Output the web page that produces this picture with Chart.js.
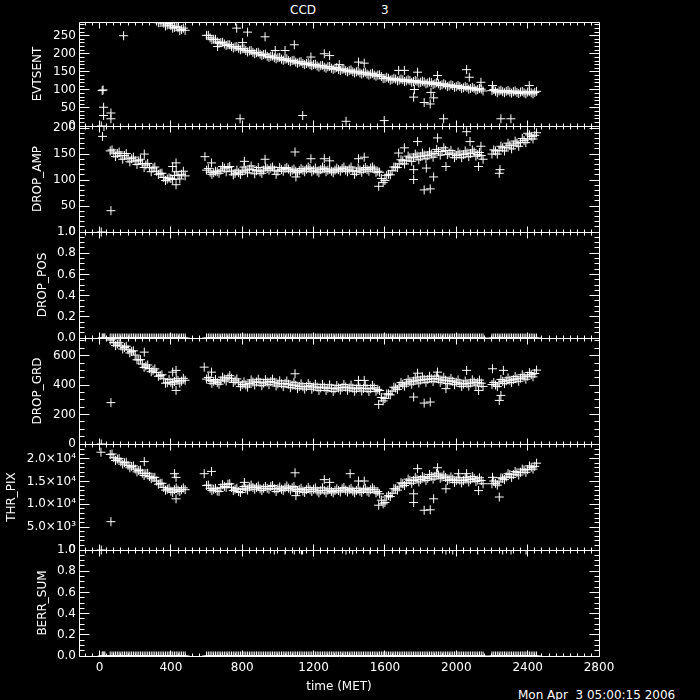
<!DOCTYPE html>
<html><head><meta charset="utf-8">
<script src="https://cdn.jsdelivr.net/npm/chart.js@4.4.0/dist/chart.umd.min.js"></script>
<style>
html,body{margin:0;padding:0;background:#000;}
#wrap{position:relative;width:700px;height:700px;background:#000;overflow:hidden;font-family:'DejaVu Sans';color:#fff;}
#wrap canvas{position:absolute;left:0;}
.txt{position:absolute;font-family:'DejaVu Sans';font-size:12px;line-height:12px;white-space:pre;color:#fff;}
</style></head><body>
<div id="wrap">
 <div class="txt" style="left:290px;top:4px">CCD</div>
 <div class="txt" style="left:381px;top:4px">3</div>
 <div class="txt" style="left:518px;top:689px">Mon Apr  3 05:00:15 2006</div>
</div>
<script>
// ---------------- data (time in MET seconds) ----------------
const time = [
 60,80,100,120,140,160,180,200,220,240,260,280,300,320,340,360,380,400,420,440,460,480,
 600,620,640,660,680,700,720,740,760,780,
 800,820,840,860,880,900,920,940,960,980,
 1000,1020,1040,1060,1080,1100,1120,1140,1160,1180,
 1200,1220,1240,1260,1280,1300,1320,1340,1360,1380,
 1400,1420,1440,1460,1480,1500,1520,1540,1560,1580,
 1600,1620,1640,1660,1680,1700,1720,1740,1760,1780,
 1800,1820,1840,1860,1880,1900,1920,1940,1960,1980,
 2000,2020,2040,2060,2080,2100,2120,2140,
 2200,2220,2240,2260,2280,2300,2320,2340,2360,2380,2400,2420,2440
];
const time2 = [
 70,90,110,130,150,170,190,210,230,250,270,290,310,330,350,370,390,410,430,450,470,
 610,630,650,670,690,710,730,750,770,790,
 810,830,850,870,890,910,930,950,970,990,
 1010,1030,1050,1070,1090,1110,1130,1150,1170,1190,
 1210,1230,1250,1270,1290,1310,1330,1350,1370,1390,
 1410,1430,1450,1470,1490,1510,1530,1550,1570,1590,
 1610,1630,1650,1670,1690,1710,1730,1750,1770,1790,
 1810,1830,1850,1870,1890,1910,1930,1950,1970,1990,
 2010,2030,2050,2070,2090,2110,2130,2150,
 2210,2230,2250,2270,2290,2310,2330,2350,2370,2390,2410,2430,2450
];
const evtsent = [
 395,389,381,376,367,361,352,346,336,331,319,313,301,295,287,285,280,278,273,272,267,265,
 251,244,240,233,231,227,225,220,219,215,
 214,209,208,204,203,199,198,193,193,189,
 189,185,185,181,181,177,177,173,173,170,
 170,166,167,163,164,160,160,157,157,153,
 153,150,150,147,147,144,144,141,141,137,
 132,132,129,130,127,128,125,126,123,124,
 121,122,119,120,117,117,114,114,111,112,
 109,109,106,107,104,104,101,102,
 98,96,97,95,96,94,95,93,94,92,94,92,93
];
const evtsent2 = [
 394,382,381,368,369,351,354,336,338,320,321,302,303,286,291,277,284,271,276,264,271,
 251,239,240,229,232,223,225,216,220,211,
 214,205,209,200,204,195,199,190,194,186,
 190,182,186,178,182,174,178,170,175,167,
 171,163,168,160,165,157,162,154,158,150,
 155,147,152,144,149,141,146,138,142,131,
 135,127,132,125,130,123,128,121,126,119,
 124,117,122,115,120,112,117,109,114,107,
 112,104,109,102,107,99,104,97,
 101,92,99,92,98,91,97,90,96,89,96,89,96
];
const dropAmp = [
 156,152,151,147,147,142,141,137,137,132,129,124,123,117,113,105,102,103,109,109,111,108,
 119,115,114,116,119,123,124,117,113,114,
 117,119,121,120,118,116,119,122,123,119,
 117,120,122,121,119,117,118,119,121,122,
 119,117,120,122,119,117,119,120,122,119,
 121,118,116,119,121,120,123,121,117,103,
 99,111,118,125,131,137,138,143,143,146,
 145,148,147,150,151,155,155,157,152,150,
 147,150,149,152,151,154,149,147,
 150,156,157,162,163,167,167,171,172,176,179,184,186
];
const dropAmp2 = [
 158,145,154,140,151,135,144,130,140,124,132,116,125,111,113,99,104,101,116,102,117,
 122,111,117,113,126,116,126,110,119,111,
 125,114,127,112,124,113,125,119,125,111,
 124,117,124,116,121,114,122,116,125,116,
 123,114,125,116,121,114,123,117,125,116,
 125,111,123,115,124,117,125,115,115,95,
 109,110,125,124,139,131,146,136,150,139,
 152,141,154,144,159,148,162,149,157,143,
 154,143,156,145,158,146,153,140,
 158,150,165,156,171,160,175,165,180,172,187,179,191
];
const dropPos = [
 0,0,0,0,0,0,0,0,0,0,0,0,0,0,0,0,0,0,0,0,0,0,
 0,0,0,0,0,0,0,0,0,0,
 0,0,0,0,0,0,0,0,0,0,
 0,0,0,0,0,0,0,0,0,0,
 0,0,0,0,0,0,0,0,0,0,
 0,0,0,0,0,0,0,0,0,0,
 0,0,0,0,0,0,0,0,0,0,
 0,0,0,0,0,0,0,0,0,0,
 0,0,0,0,0,0,0,0,
 0,0,0,0,0,0,0,0,0,0,0,0,0
];
const dropPos2 = [
 0,0,0,0,0,0,0,0,0,0,0,0,0,0,0,0,0,0,0,0,0,
 0,0,0,0,0,0,0,0,0,0,
 0,0,0,0,0,0,0,0,0,0,
 0,0,0,0,0,0,0,0,0,0,
 0,0,0,0,0,0,0,0,0,0,
 0,0,0,0,0,0,0,0,0,0,
 0,0,0,0,0,0,0,0,0,0,
 0,0,0,0,0,0,0,0,0,0,
 0,0,0,0,0,0,0,0,
 0,0,0,0,0,0,0,0,0,0,0,0,0
];
const dropGrd = [
 706,689,679,666,656,640,629,604,571,543,529,513,501,486,466,443,416,419,424,431,427,433,
 441,431,426,417,429,441,449,446,429,416,
 404,401,411,421,421,419,414,421,424,419,
 409,409,411,406,399,399,391,389,389,396,
 387,386,381,386,379,379,375,381,383,387,
 381,379,375,381,377,376,376,381,371,316,
 309,341,359,381,394,406,414,423,427,433,
 434,439,439,443,444,441,434,433,429,426,
 419,413,407,411,414,421,417,413,
 404,401,414,426,429,433,437,443,447,456,461,471,479
];
const dropGrd2 = [
 713,668,688,645,664,619,633,572,573,520,537,491,510,460,470,413,438,406,443,414,446,
 452,412,438,406,454,428,464,418,442,390,
 422,387,435,401,440,396,437,403,441,394,
 429,390,428,383,419,376,409,373,411,372,
 406,364,403,363,402,357,397,366,404,365,
 400,358,397,360,397,356,398,358,363,293,
 340,334,386,371,417,393,437,406,449,414,
 456,419,460,424,461,419,453,411,446,403,
 435,391,428,393,436,400,434,391,
 418,390,438,410,449,418,459,426,470,440,485,456,502
];
const thrPix = [
 20900,20200,19900,19300,19100,18500,18300,17700,17400,16800,16700,16100,15900,15100,14600,13700,13300,12900,13200,13100,13200,13200,
 14100,13500,13300,12900,13600,13900,14400,13700,13300,12800,
 13300,13400,13800,13700,13700,13400,13500,13500,13900,13400,
 13400,13300,13600,13500,13600,13200,13200,12900,13200,13200,
 13300,12900,13000,13000,13100,12800,13000,13000,13400,13100,
 13200,12900,13000,12900,13200,12900,13200,13200,12800,10900,
 10400,11900,12400,13400,13800,14500,14700,15200,15200,15500,
 15400,15800,15700,16100,16100,16400,16000,15900,15500,15500,
 15200,15300,15200,15500,15400,15700,15300,15200,
 14500,14600,14900,15700,16000,16500,16500,16900,17000,17500,17600,18100,18300
];
const thrPix2 = [
 21000,19600,20000,18800,19200,18000,18400,17100,17500,16300,16800,15600,15900,14400,14600,13100,13500,12600,13600,12800,13600,
 14200,13000,13500,12800,14300,13700,14500,13000,13500,12600,
 13900,13100,14200,13300,14000,13000,13900,13300,14100,12800,
 13800,13000,14000,13100,13900,12800,13500,12600,13700,12800,
 13600,12500,13600,12500,13400,12500,13400,12700,13700,12700,
 13500,12500,13500,12600,13500,12600,13600,12500,12300,10100,
 11600,11700,13400,13100,14700,14100,15500,14600,15900,14900,
 16100,15200,16500,15500,16800,15700,16400,15200,16000,14800,
 15800,14700,15900,14900,16100,15000,15800,14500,
 15100,14200,15800,15400,16700,15900,17200,16400,17700,17000,18400,17700,19000
];
const berrSum = [
 0,0,0,0,0,0,0,0,0,0,0,0,0,0,0,0,0,0,0,0,0,0,
 0,0,0,0,0,0,0,0,0,0,
 0,0,0,0,0,0,0,0,0,0,
 0,0,0,0,0,0,0,0,0,0,
 0,0,0,0,0,0,0,0,0,0,
 0,0,0,0,0,0,0,0,0,0,
 0,0,0,0,0,0,0,0,0,0,
 0,0,0,0,0,0,0,0,0,0,
 0,0,0,0,0,0,0,0,
 0,0,0,0,0,0,0,0,0,0,0,0,0
];
const berrSum2 = [
 0,0,0,0,0,0,0,0,0,0,0,0,0,0,0,0,0,0,0,0,0,
 0,0,0,0,0,0,0,0,0,0,
 0,0,0,0,0,0,0,0,0,0,
 0,0,0,0,0,0,0,0,0,0,
 0,0,0,0,0,0,0,0,0,0,
 0,0,0,0,0,0,0,0,0,0,
 0,0,0,0,0,0,0,0,0,0,
 0,0,0,0,0,0,0,0,0,0,
 0,0,0,0,0,0,0,0,
 0,0,0,0,0,0,0,0,0,0,0,0,0
];
// isolated points (outliers / early frames)
const evtsentOutT = [10,15,20,23,23,64,64,135,662,769,788,802,830,928,985,1040,1092,1139,1185,1260,1290,1344,1382,1452,1484,1596,1677,1709,1761,1765,1783,1820,1854,1858,1873,1895,1929,2058,2073,2138,2203,2250,2306,2409];
const evtsentOutV = [0,98,100,52,29,36,20,250,220,271,20,231,260,247,209,209,225,29,191,200,195,170,13,177,174,15,154,154,80,101,149,65,61,93,78,140,20,156,135,121,112,20,20,112];
const dropAmpOutT = [10,17,25,64,251,410,429,429,591,628,812,928,1096,1101,1185,1260,1290,1452,1484,1565,1677,1709,1761,1761,1783,1820,1832,1854,1873,1895,1942,2058,2077,2125,2138,2241,2245,2400];
const dropAmpOutV = [0,184,203,41,150,126,133,91,145,133,136,140,154,106,141,141,137,141,144,88,152,162,120,101,174,81,123,83,106,181,126,193,174,126,165,113,120,190];
const dropPosOutT = [10,15,20,25,30];
const dropPosOutV = [1,0,0,0,0];
const dropGrdOutT = [10,64,251,410,429,429,587,628,1096,1452,1484,1565,1761,1783,1820,1854,1895,1942,2058,2125,2203,2241,2250,2264];
const dropGrdOutV = [0,281,624,488,500,364,522,488,477,432,432,269,319,481,278,285,488,376,500,364,511,296,330,500];
const thrPixOutT = [8,10,64,251,420,429,429,587,628,812,1096,1101,1260,1290,1405,1452,1484,1565,1761,1761,1783,1820,1854,1873,1895,1942,2013,2058,2125,2203,2241];
const thrPixOutV = [21400,0,6200,19350,16700,15900,11200,16700,17200,14800,16900,11900,15400,14800,16700,15100,15100,9800,12300,10400,17800,8700,8800,11200,18000,13400,16700,16700,13000,15900,11600];
const berrSumOutT = [10,15,20,25,30,980,1040,1092,1132,1138,1382,1419,1516,1718,1877,1942,1980,2120,2260,2307,2391];
const berrSumOutV = [1,0,0,0,0,1,1,1,1,1,1,1,1,1,1,1,1,1,1,1,1];
// tick labels
const xTicks = [0,400,800,1200,1600,2000,2400,2800];
const evtsentTicks = [0,50,100,150,200,250];
const dropAmpTicks = [0,50,100,150,200];
const dropPosTicks = [0,0.2,0.4,0.6,0.8,1.0];
const dropGrdTicks = [0,200,400,600];
const thrPixTicks = [0,5000,10000,15000,20000];
const berrSumTicks = [0,0.2,0.4,0.6,0.8,1.0];

// ---------------- drawing ----------------
const FONT = {family:'DejaVu Sans', size:12};
const sup = {3:'\u00B3',4:'\u2074'};
const fmtInt = v => String(v);
const fmt1 = v => v.toFixed(1);
const fmtSci = v => {
  if (v === 0) return '0';
  const e = Math.floor(Math.log10(v) + 1e-9);
  return (v / Math.pow(10, e)).toFixed(1) + '\u00D710' + sup[e];
};
const panels = [
 {name:'EVTSENT',  top:22,  bottom:126, min:0, max:288,   ticks:evtsentTicks, minor:10,   tp:31, fmt:fmtInt, v:evtsent, v2:evtsent2, oT:evtsentOutT, oV:evtsentOutV},
 {name:'DROP_AMP', top:126, bottom:232, min:0, max:204,   ticks:dropAmpTicks, minor:10,   tp:31, fmt:fmtInt, v:dropAmp, v2:dropAmp2, oT:dropAmpOutT, oV:dropAmpOutV},
 {name:'DROP_POS', top:232, bottom:338, min:0, max:1,     ticks:dropPosTicks, minor:0.05, tp:36, fmt:fmt1,   v:dropPos, v2:dropPos2, oT:dropPosOutT, oV:dropPosOutV},
 {name:'DROP_GRD', top:338, bottom:444, min:0, max:720,   ticks:dropGrdTicks, minor:50,   tp:31, fmt:fmtInt, v:dropGrd, v2:dropGrd2, oT:dropGrdOutT, oV:dropGrdOutV},
 {name:'THR_PIX',  top:444, bottom:550, min:0, max:23200, ticks:thrPixTicks,  minor:1000, tp:5,  fmt:fmtSci, v:thrPix,  v2:thrPix2,  oT:thrPixOutT,  oV:thrPixOutV},
 {name:'BERR_SUM', top:550, bottom:656, min:0, max:1,     ticks:berrSumTicks, minor:0.05, tp:36, fmt:fmt1,   v:berrSum, v2:berrSum2, oT:berrSumOutT, oV:berrSumOutV}
];
const X_MIN = -115, X_MAX = 2800, X_MINOR = 40;
const PLOT_L = 79, PLOT_R = 599, W = 700, PAD = 12, XAXIS_H = 44;

const idlFrame = {
  id: 'idlFrame',
  afterDatasetsDraw(chart, args, o) {
    const {ctx, chartArea: a} = chart;
    const xs = chart.scales.x, ys = chart.scales.y;
    const L = Math.floor(a.left) + 0.5, R = Math.floor(a.right) + 0.5;
    const T = Math.floor(a.top) + 0.5, B = Math.floor(a.bottom) + 0.5;
    ctx.save();
    ctx.strokeStyle = '#fff'; ctx.lineWidth = 1;
    ctx.beginPath();
    ctx.rect(L, T, R - L, B - T);
    const isMajor = (v, list) => list.some(m => Math.abs(m - v) < 1e-6);
    const nY = Math.round((o.max - o.min) / o.minor);
    for (let k = 0; k <= nY; k++) {
      const v = o.min + k * o.minor;
      if (v > o.max + 1e-9) break;
      const py = Math.floor(ys.getPixelForValue(v)) + 0.5;
      const len = isMajor(v, o.majors) ? 10 : 5;
      ctx.moveTo(L, py); ctx.lineTo(L + len, py);
      ctx.moveTo(R, py); ctx.lineTo(R - len, py);
    }
    const k0 = Math.ceil(X_MIN / X_MINOR), k1 = Math.floor(X_MAX / X_MINOR);
    for (let k = k0; k <= k1; k++) {
      const v = k * X_MINOR;
      const px = Math.floor(xs.getPixelForValue(v)) + 0.5;
      const len = isMajor(v, xTicks) ? 6 : 3;
      ctx.moveTo(px, B); ctx.lineTo(px, B - len);
      ctx.moveTo(px, T); ctx.lineTo(px, T + len);
    }
    ctx.stroke();
    ctx.restore();
  }
};

const wrap = document.getElementById('wrap');
panels.forEach((p, i) => {
  const last = i === panels.length - 1;
  const cv = document.createElement('canvas');
  const h = (p.bottom - p.top) + PAD + (last ? XAXIS_H : PAD);
  cv.width = W; cv.height = h;
  cv.style.width = W + 'px'; cv.style.height = h + 'px';
  cv.style.top = (p.top - PAD) + 'px';
  wrap.appendChild(cv);
  const pts = time.map((t, k) => ({x: t, y: p.v[k]}))
    .concat(time2.map((t, k) => ({x: t, y: p.v2[k]})))
    .concat(p.oT.map((t, k) => ({x: t, y: p.oV[k]})));
  new Chart(cv, {
    type: 'scatter',
    data: {datasets: [{
      data: pts, pointStyle: 'cross', radius: 4.5, hoverRadius: 4.5,
      borderColor: '#fff', backgroundColor: '#fff', borderWidth: 1, clip: 0
    }]},
    options: {
      responsive: false, animation: false, devicePixelRatio: 1, events: [],
      layout: {padding: {left: 0, right: W - PLOT_R, top: PAD, bottom: last ? 0 : PAD}},
      plugins: {
        legend: {display: false}, tooltip: {enabled: false},
        idlFrame: {min: p.min, max: p.max, majors: p.ticks, minor: p.minor}
      },
      scales: {
        x: {
          type: 'linear', min: X_MIN, max: X_MAX, display: last,
          grid: {display: false, drawTicks: false}, border: {display: false},
          afterBuildTicks: s => { s.ticks = xTicks.map(v => ({value: v})); },
          ticks: {color: '#fff', font: FONT, padding: 5, autoSkip: false, maxRotation: 0, callback: v => String(v)},
          title: {display: last, text: 'time (MET)', color: '#fff', font: FONT, padding: {top: 0, bottom: 6}},
          afterFit: s => { s.height = last ? XAXIS_H : 0; }
        },
        y: {
          type: 'linear', min: p.min, max: p.max, position: 'left',
          grid: {display: false, drawTicks: false}, border: {display: false},
          afterBuildTicks: s => { s.ticks = p.ticks.map(v => ({value: v})); },
          ticks: {color: '#fff', font: FONT, padding: 3, autoSkip: false, callback: v => p.fmt(v)},
          title: {display: true, text: p.name, color: '#fff', font: FONT, padding: {top: p.tp, bottom: 0}},
          afterFit: s => { s.width = PLOT_L; }
        }
      }
    },
    plugins: [idlFrame]
  });
});
</script>
</body></html>
